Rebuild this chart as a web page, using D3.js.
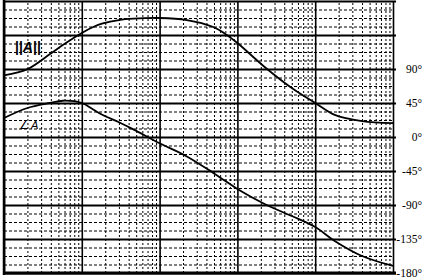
<!DOCTYPE html>
<html>
<head>
<meta charset="utf-8">
<script src="https://cdn.jsdelivr.net/npm/d3@7"></script>
<style>
  body { margin: 0; background: #fff; }
  svg { display: block; }
  .grid .domain { display: none; }
  .labels .domain, .labels line { display: none; }
</style>
</head>
<body>
<svg></svg>
<script>
// frequency points (log axis, 5 decades)
const freq = [1, 2, 3.9, 5.7, 10, 14, 18.6, 30, 46, 100, 224, 490, 700, 1000, 2240, 5000, 10000, 17800, 40000, 100000]
// |A| in dB (20 dB per heavy grid line)
const magnitude = [-3.8, -0.1, 8.8, 14.1, 21.2, 24.7, 26.8, 28.8, 29.6, 30, 28.8, 24.7, 20.6, 15.3, 1.2, -11.2, -20, -27, -30.6, -31.8]
// angle of A in degrees
const phase = [25.1, 38.4, 45, 48, 45, 36.4, 29.1, 19.5, 10.1, -8.3, -25.7, -47.6, -58.2, -68.8, -88.7, -104.6, -119.1, -137.6, -157.5, -170.7]
const phaseTicks = [90, 45, 0, -45, -90, -135, -180]
const decades = [1, 10, 100, 1000, 10000, 100000]

const width = 425
const height = 278
const plotLeft = 4, plotRight = 393, plotTop = 1, plotBottom = 273

const svg = d3.select('svg')
  .attr('width', width)
  .attr('height', height)

const x = d3.scaleLog()
  .domain([1, 100000])
  .range([plotLeft, plotRight])

const yPhase = d3.scaleLinear()
  .domain([-180, 180])
  .range([plotBottom, plotTop])

const yMag = d3.scaleLinear()
  .domain([-120, 40])
  .range([plotBottom, plotTop])

// minor log lines (2..9 in each decade)
const minorX = []
decades.slice(0, -1).forEach(d => {
  for (let k = 2; k <= 9; k++) minorX.push(d * k)
})

svg.append('g')
  .attr('class', 'grid')
  .attr('transform', `translate(0, ${plotBottom})`)
  .call(d3.axisBottom(x).tickValues(minorX).tickSize(-(plotBottom - plotTop)).tickFormat(''))
  .selectAll('line')
  .attr('stroke', '#000')
  .attr('stroke-dasharray', '2,2')

// minor horizontal lines, 4 per 45 degrees
const minorY = d3.range(-180, 180, 11.25).filter(v => v % 45 !== 0)
svg.append('g')
  .attr('class', 'grid')
  .attr('transform', `translate(${plotLeft}, 0)`)
  .call(d3.axisLeft(yPhase).tickValues(minorY).tickSize(-(plotRight - plotLeft)).tickFormat(''))
  .selectAll('line')
  .attr('stroke', '#000')
  .attr('stroke-dasharray', '3,2')

// heavy lines
svg.append('g')
  .attr('class', 'grid')
  .attr('transform', `translate(0, ${plotBottom})`)
  .call(d3.axisBottom(x).tickValues(decades).tickSize(-(plotBottom - plotTop)).tickFormat(''))
  .selectAll('line')
  .attr('stroke', '#000')
  .attr('stroke-width', 1.6)

svg.append('g')
  .attr('class', 'grid')
  .attr('transform', `translate(${plotLeft}, 0)`)
  .call(d3.axisLeft(yPhase).tickValues(d3.range(-180, 181, 45)).tickSize(-(plotRight - plotLeft + 3)).tickFormat(''))
  .selectAll('line')
  .attr('stroke', '#000')
  .attr('stroke-width', 2)

// border emphasis
svg.append('line')
  .attr('x1', plotLeft).attr('x2', plotLeft).attr('y1', 0).attr('y2', plotBottom + 2)
  .attr('stroke', '#000').attr('stroke-width', 2.5)
svg.append('line')
  .attr('x1', plotLeft).attr('x2', plotRight + 3).attr('y1', plotBottom).attr('y2', plotBottom)
  .attr('stroke', '#000').attr('stroke-width', 3)

// right-hand degree labels
svg.append('g')
  .attr('class', 'labels')
  .attr('transform', `translate(422, 0)`)
  .call(d3.axisLeft(yPhase).tickValues(phaseTicks).tickSize(0).tickPadding(0).tickFormat(d => d + '°'))
  .selectAll('text')
  .attr('font-family', 'Liberation Serif')
  .attr('font-size', 11.5)
  .attr('fill', '#000')

const curve = d3.curveCatmullRom.alpha(0.5)

svg.append('path')
  .datum(freq)
  .attr('fill', 'none')
  .attr('stroke', '#000')
  .attr('stroke-width', 1.8)
  .attr('d', d3.line().curve(curve).x(d => x(d)).y((d, i) => yMag(magnitude[i])))

svg.append('path')
  .datum(freq)
  .attr('fill', 'none')
  .attr('stroke', '#000')
  .attr('stroke-width', 1.8)
  .attr('d', d3.line().curve(curve).x(d => x(d)).y((d, i) => yPhase(phase[i])))

// curve labels
const magLabel = svg.append('text')
  .attr('x', 15)
  .attr('y', 52)
  .attr('font-family', 'Liberation Sans')
  .attr('font-weight', 'bold')
  .attr('font-size', 14)
magLabel.append('tspan').text('||')
magLabel.append('tspan').attr('font-style', 'italic').text('A')
magLabel.append('tspan').text('||')

const phaseLabel = svg.append('text')
  .attr('x', 19)
  .attr('y', 129)
  .attr('font-family', 'DejaVu Sans')
  .attr('font-size', 11)
phaseLabel.append('tspan').text('∠')
phaseLabel.append('tspan').attr('font-style', 'italic').attr('dx', 2).text('A')
</script>
</body>
</html>
